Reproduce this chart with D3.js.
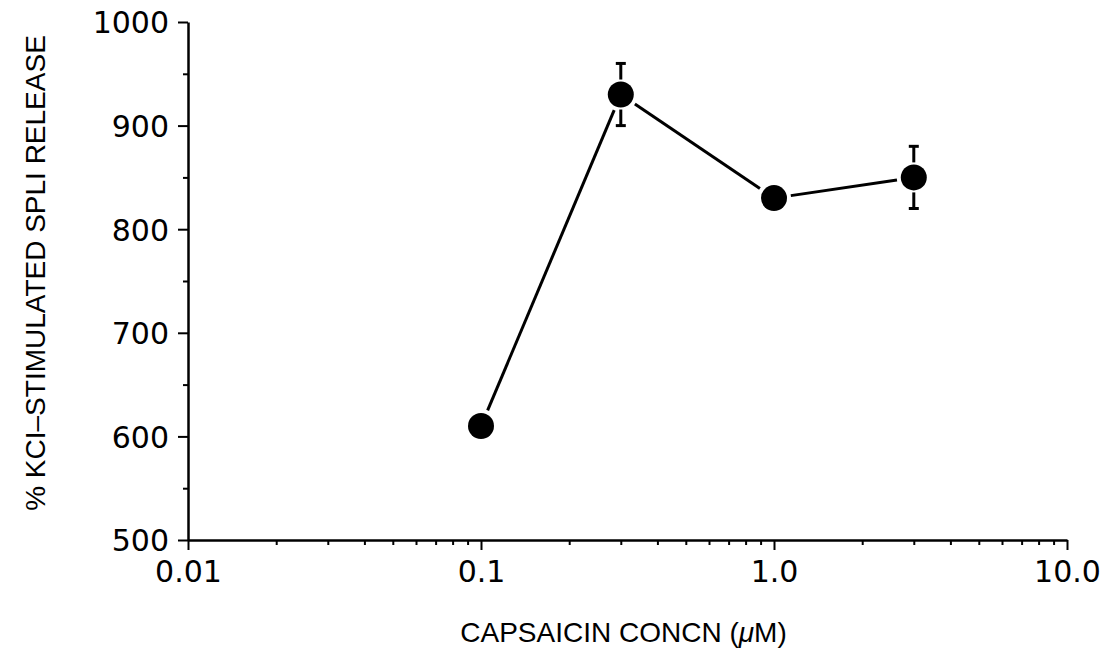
<!DOCTYPE html>
<html>
<head>
<meta charset="utf-8">
<script src="https://cdn.jsdelivr.net/npm/d3@7"></script>
<style>
  body { margin: 0; background: #fff; }
  svg { display: block; }
  .tick text { font-family: "DejaVu Sans", sans-serif; font-size: 30px; fill: #000; }
  .axisTitle { font-family: "Liberation Sans", Arial, sans-serif; font-size: 28px; fill: #000; }
</style>
</head>
<body>
<div id="chart"></div>
<script>
//
// Capsaicin concentration vs % KCl-stimulated SPLI release
//

var concentrations = [0.1, 0.3, 1.0, 3.0];
var releaseValues = [610, 930, 830, 850];
var releaseErrors = [0, 30, 0, 30];

var xTickValues = [0.01, 0.1, 1, 10];
var xTickLabels = ["0.01", "0.1", "1.0", "10.0"];
var yTickValues = [500, 600, 700, 800, 900, 1000];
var yMinorValues = [550, 650, 750, 850, 950];

const width = 1105;
const height = 650;
const axisLeft = 188;
const axisRight = 1067;
const axisTop = 22;
const axisBottom = 540;
const dotRadius = 13;
const gap = 4;

var svg = d3.select("#chart")
    .append("svg")
    .attr("width", width)
    .attr("height", height);

var x = d3.scaleLog().domain([0.01, 10]).range([axisLeft, axisRight]);
var y = d3.scaleLinear().domain([500, 1000]).range([axisBottom, axisTop]);

// minor x ticks: 2..9 in each decade
var xMinor = [];
[0.01, 0.1, 1].forEach(function (d) {
    for (var k = 2; k <= 9; k++) xMinor.push(d * k);
});

function styleAxis(g) {
    g.select(".domain").attr("stroke", "#000").attr("stroke-width", 2.5);
    g.selectAll(".tick line").attr("stroke", "#000").attr("stroke-width", 2);
}

// x axis
svg.append("g")
    .attr("transform", "translate(0," + axisBottom + ")")
    .call(d3.axisBottom(x).tickValues(xMinor).tickSize(5).tickSizeOuter(0).tickFormat(""))
    .call(styleAxis);

svg.append("g")
    .attr("transform", "translate(0," + axisBottom + ")")
    .call(d3.axisBottom(x).tickValues(xTickValues).tickSize(10).tickSizeOuter(0)
        .tickFormat(function (d, i) { return xTickLabels[i]; }))
    .call(styleAxis)
    .call(function (g) {
        g.select(".domain").remove();
        g.selectAll(".tick text").attr("y", 21);
    });

// y axis
svg.append("g")
    .attr("transform", "translate(" + axisLeft + ",0)")
    .call(d3.axisLeft(y).tickValues(yMinorValues).tickSize(5).tickSizeOuter(0).tickFormat(""))
    .call(styleAxis);

svg.append("g")
    .attr("transform", "translate(" + axisLeft + ",0)")
    .call(d3.axisLeft(y).tickValues(yTickValues).tickSize(10).tickSizeOuter(0).tickFormat(d3.format("d")))
    .call(styleAxis)
    .call(function (g) {
        g.select(".domain").remove();
        g.selectAll(".tick text").attr("x", -19).attr("dy", "0.36em");
    });

// axis titles
var xTitle = svg.append("text")
    .attr("class", "axisTitle")
    .attr("x", (axisLeft + axisRight) / 2 - 4)
    .attr("y", 642)
    .style("text-anchor", "middle");
xTitle.append("tspan").text("CAPSAICIN CONCN (");
xTitle.append("tspan").style("font-style", "italic").text("\u03BC");
xTitle.append("tspan").text("M)");

svg.append("text")
    .attr("class", "axisTitle")
    .attr("transform", "translate(45," + 273 + ") rotate(-90)")
    .style("text-anchor", "middle")
    .text("% KCI\u2013STIMULATED SPLI RELEASE");

var points = concentrations.map(function (c, i) {
    return { px: x(c), py: y(releaseValues[i]), v: releaseValues[i], e: releaseErrors[i] };
});

// connecting segments, trimmed short of the markers
var plot = svg.append("g");
for (var i = 0; i < points.length - 1; i++) {
    var a = points[i], b = points[i + 1];
    var dx = b.px - a.px, dy = b.py - a.py;
    var len = Math.sqrt(dx * dx + dy * dy);
    var off = dotRadius + gap;
    plot.append("line")
        .attr("x1", a.px + dx / len * off)
        .attr("y1", a.py + dy / len * off)
        .attr("x2", b.px - dx / len * off)
        .attr("y2", b.py - dy / len * off)
        .attr("stroke", "#000")
        .attr("stroke-width", 3);
}

// error bars
points.forEach(function (p) {
    if (p.e <= 0) return;
    var top = y(p.v + p.e), bot = y(p.v - p.e);
    [[top, p.py - dotRadius - 2], [bot, p.py + dotRadius + 2]].forEach(function (seg) {
        plot.append("line")
            .attr("x1", p.px).attr("x2", p.px)
            .attr("y1", seg[0]).attr("y2", seg[1])
            .attr("stroke", "#000").attr("stroke-width", 3);
        plot.append("line")
            .attr("x1", p.px - 5).attr("x2", p.px + 5)
            .attr("y1", seg[0]).attr("y2", seg[0])
            .attr("stroke", "#000").attr("stroke-width", 3);
    });
});

plot.selectAll("circle")
    .data(points)
    .enter()
    .append("circle")
    .attr("cx", function (d) { return d.px; })
    .attr("cy", function (d) { return d.py; })
    .attr("r", dotRadius)
    .attr("fill", "#000");
</script>
</body>
</html>
